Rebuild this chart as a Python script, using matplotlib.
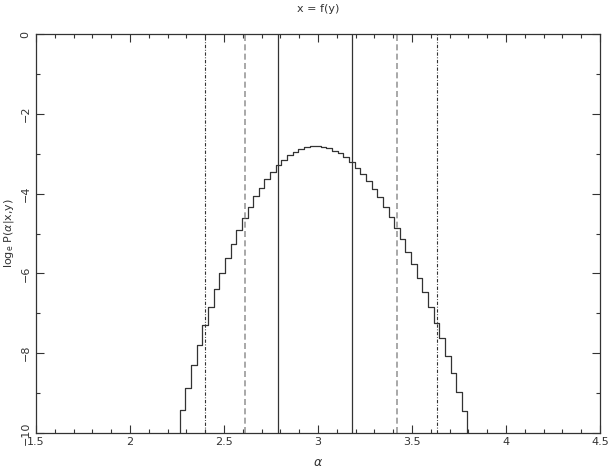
import matplotlib
matplotlib.use("Agg")
import matplotlib.pyplot as plt
import numpy as np
from matplotlib.ticker import MultipleLocator

# histogram of log posterior, bin width 0.03
bin_start = 2.265
bin_width = 0.03
log_post = [
    -9.42, -8.86, -8.30, -7.79, -7.29, -6.83, -6.40, -6.00, -5.61, -5.26,
    -4.91, -4.62, -4.34, -4.07, -3.85, -3.64, -3.45, -3.28, -3.16, -3.03,
    -2.95, -2.87, -2.83, -2.80, -2.80, -2.82, -2.86, -2.92, -2.99, -3.09,
    -3.22, -3.35, -3.51, -3.69, -3.89, -4.09, -4.34, -4.59, -4.85, -5.14,
    -5.46, -5.76, -6.12, -6.46, -6.85, -7.24, -7.63, -8.07, -8.50, -8.96,
    -9.44,
]

# interval markers
solid_x = [2.789, 3.179]
dashed_x = [2.612, 3.420]
dashdot_x = [2.401, 3.631]

xlim = (1.5, 4.5)
ylim = (-10, 0)

plt.rcParams["font.family"] = "DejaVu Sans"
ink = "#333333"

fig = plt.figure(figsize=(6.09, 4.67), dpi=100)
ax = fig.add_axes([36 / 609, 1 - 433 / 467, 564 / 609, 399 / 467])

vals = np.asarray(log_post)
edges = bin_start + bin_width * np.arange(len(vals) + 1)
xs = np.concatenate([[edges[0]], edges, [edges[-1]]])
ys = np.concatenate([[ylim[0]], vals, [ylim[0]], [ylim[0]]])
ax.step(xs, ys, where="post", color=ink, lw=0.9)

for x in solid_x:
    ax.axvline(x, color=ink, lw=0.9)
for x in dashed_x:
    ax.axvline(x, color="#999999", lw=1.2, linestyle=(0, (3.6, 2.0)))
for x in dashdot_x:
    ax.axvline(x, color=ink, lw=0.8, linestyle=(0, (3.0, 1.5, 0.8, 1.5)))

ax.set_xlim(*xlim)
ax.set_ylim(*ylim)
ax.xaxis.set_minor_locator(MultipleLocator(0.1))
ax.yaxis.set_major_locator(MultipleLocator(2))
ax.yaxis.set_minor_locator(MultipleLocator(1))
ax.set_xticks([1.5, 2, 2.5, 3, 3.5, 4, 4.5])
ax.set_xticklabels(["1.5", "2", "2.5", "3", "3.5", "4", "4.5"])
ax.tick_params(which="both", direction="in", top=True, right=True,
               colors=ink, labelsize=8, width=0.8)
ax.tick_params(which="major", length=6)
ax.tick_params(which="minor", length=3)
ax.tick_params(axis="x", pad=3)
ax.tick_params(axis="y", pad=4)
for lab in ax.get_yticklabels():
    lab.set_rotation(90)
    lab.set_va("center")
for sp in ax.spines.values():
    sp.set_color(ink)
    sp.set_linewidth(0.9)

fig.text(318 / 609, 1 - 9 / 467, "x = f(y)", fontsize=8, color=ink,
         ha="center", va="center")
ax.set_xlabel(r"$\alpha$", fontsize=9, color=ink, va="center")
ax.xaxis.set_label_coords(0.5, (5 - 34) / 399)
ax.set_ylabel(r"log$_{\rm e}$ P($\alpha$|x,y)", fontsize=8, color=ink, va="center")
ax.yaxis.set_label_coords((9 - 36) / 564, 0.5)

fig.savefig("out.png", dpi=100)
